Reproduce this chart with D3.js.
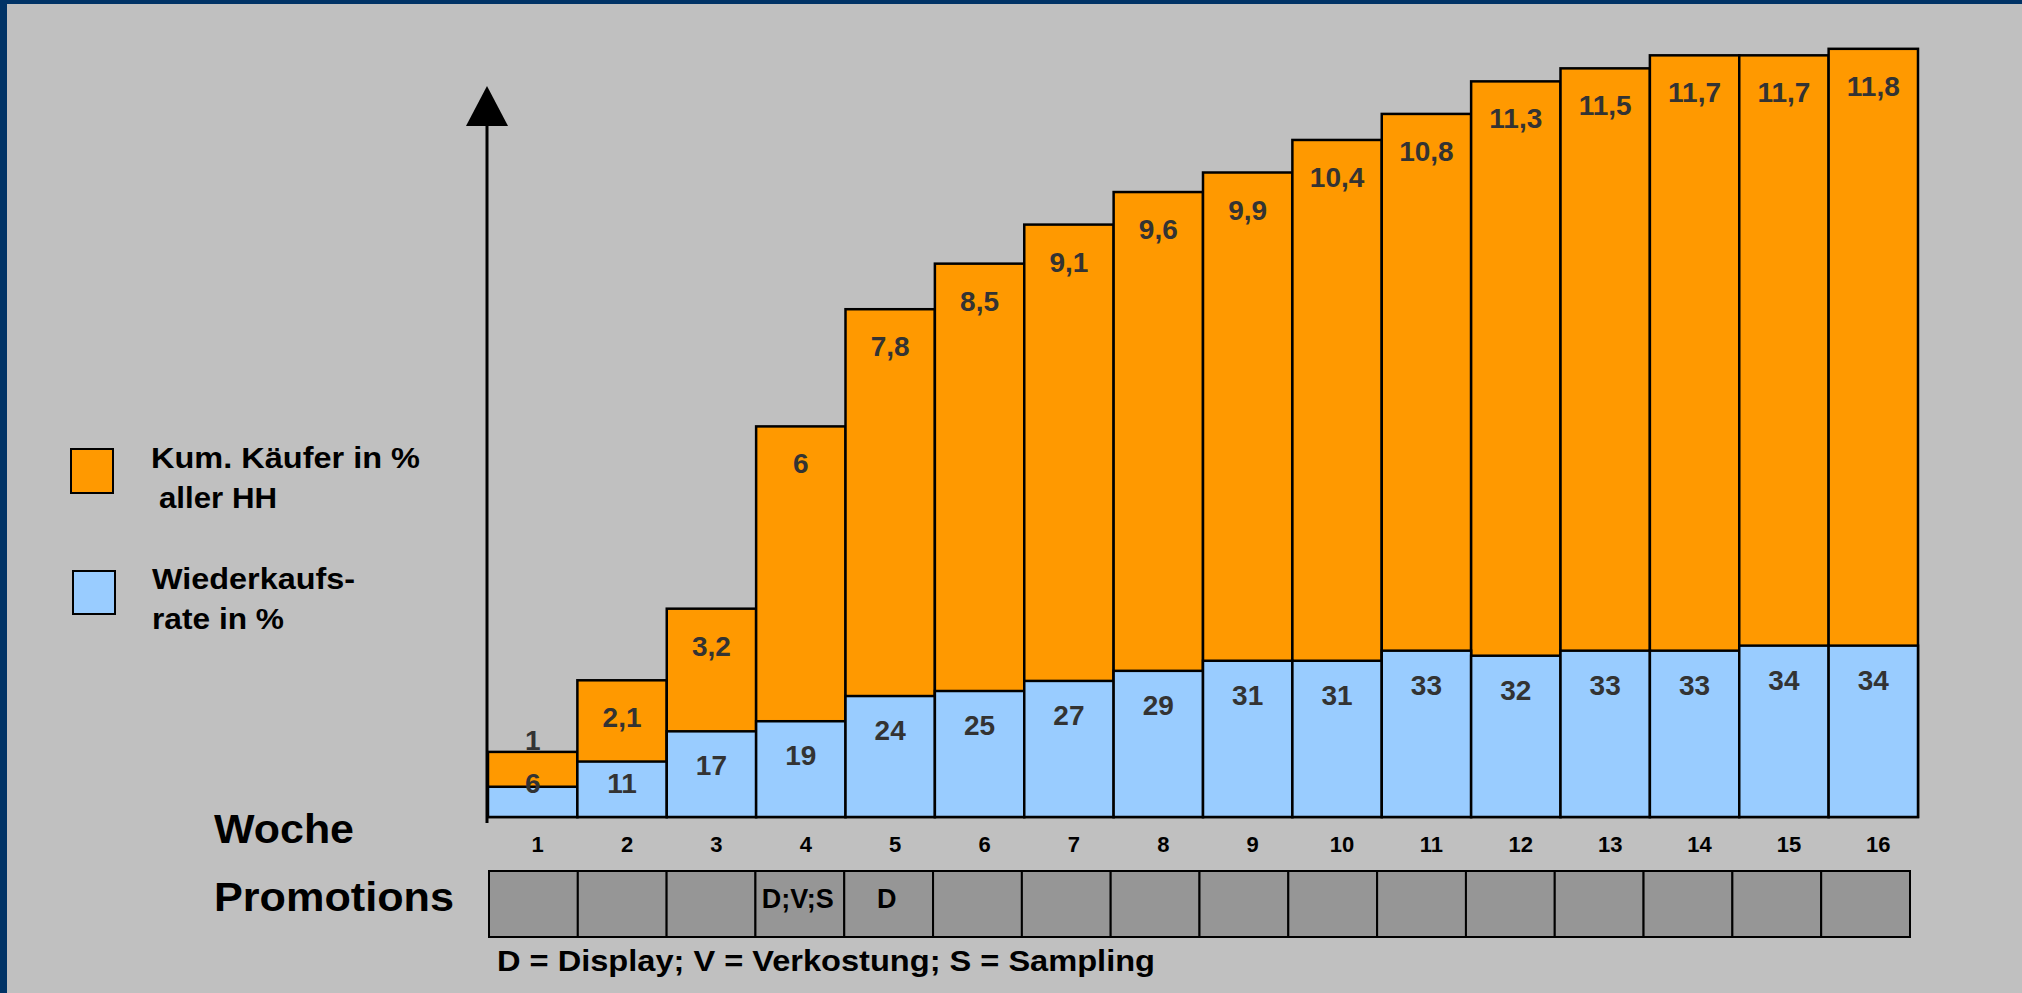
<!DOCTYPE html>
<html>
<head>
<meta charset="utf-8">
<script src="https://cdn.jsdelivr.net/npm/d3@7"></script>
<style>
  html, body { margin: 0; padding: 0; background: #c0c0c0; }
  svg { display: block; }
  text { font-family: "Liberation Sans", Arial, Helvetica, sans-serif; font-weight: bold; }
</style>
</head>
<body>
<svg id="chart" width="2022" height="993"></svg>
<script>
// ---- data ----
const weeks = ["1","2","3","4","5","6","7","8","9","10","11","12","13","14","15","16"];
const kumKaeufer = [1, 2.1, 3.2, 6, 7.8, 8.5, 9.1, 9.6, 9.9, 10.4, 10.8, 11.3, 11.5, 11.7, 11.7, 11.8];
const kumLabels = ["1","2,1","3,2","6","7,8","8,5","9,1","9,6","9,9","10,4","10,8","11,3","11,5","11,7","11,7","11,8"];
const wiederkauf = [6, 11, 17, 19, 24, 25, 27, 29, 31, 31, 33, 32, 33, 33, 34, 34];
const promotions = ["", "", "", "D;V;S", "D", "", "", "", "", "", "", "", "", "", "", ""];
const legendKum = ["Kum. Käufer in %", "aller HH"];
const legendWieder = ["Wiederkaufs-", "rate in %"];
const rowLabels = ["Woche", "Promotions"];
const footnote = "D = Display; V = Verkostung; S = Sampling";

// ---- layout ----
const W = 2022, H = 993;
const svg = d3.select("#chart");
const baseY = 817;
const topY = 817 - 12 * 65.1;

svg.append("rect").attr("x", 0).attr("y", 0).attr("width", W).attr("height", H).attr("fill", "#c0c0c0");
// frame (left and top)
svg.append("rect").attr("x", 0).attr("y", 0).attr("width", 7).attr("height", H).attr("fill", "#003366");
svg.append("rect").attr("x", 0).attr("y", 0).attr("width", W).attr("height", 4).attr("fill", "#003366");

const x = d3.scaleBand().domain(weeks).range([488, 1918]).padding(0);
const xPromo = d3.scaleBand().domain(weeks).range([489, 1910]).padding(0);
const yO = d3.scaleLinear().domain([0, 12]).range([baseY, topY]);
const yB = d3.scaleLinear().domain([0, 155]).range([baseY, topY]);

const data = weeks.map((w, i) => ({ w, k: kumKaeufer[i], kl: kumLabels[i], r: wiederkauf[i], p: promotions[i] }));

// orange bars
svg.append("g").selectAll("rect").data(data).join("rect")
  .attr("x", d => x(d.w)).attr("y", d => yO(d.k))
  .attr("width", x.bandwidth()).attr("height", d => baseY - yO(d.k))
  .attr("fill", "#ff9900").attr("stroke", "#000").attr("stroke-width", 2.5);

// blue bars
svg.append("g").selectAll("rect").data(data).join("rect")
  .attr("x", d => x(d.w)).attr("y", d => yB(d.r))
  .attr("width", x.bandwidth()).attr("height", d => baseY - yB(d.r))
  .attr("fill", "#99ccff").attr("stroke", "#000").attr("stroke-width", 2.5);

// orange labels
svg.append("g").selectAll("text").data(data).join("text")
  .attr("x", d => x(d.w) + x.bandwidth() / 2)
  .attr("y", d => (yB(d.r) - yO(d.k) < 70) ? yO(d.k) - 2 : yO(d.k) + 47)
  .attr("text-anchor", "middle").attr("font-size", 28).attr("fill", "#333333")
  .text(d => d.kl);

// blue labels
svg.append("g").selectAll("text").data(data).join("text")
  .attr("x", d => x(d.w) + x.bandwidth() / 2)
  .attr("y", d => Math.min(yB(d.r) + 44, baseY - 24))
  .attr("text-anchor", "middle").attr("font-size", 28).attr("fill", "#333333")
  .text(d => d.r);

// axis with arrow
const axisX = 487;
svg.append("line").attr("x1", axisX).attr("x2", axisX).attr("y1", 120).attr("y2", 823)
  .attr("stroke", "#000").attr("stroke-width", 3);
svg.append("path").attr("d", `M${axisX},86 L${axisX - 21},126 L${axisX + 21},126 Z`).attr("fill", "#000");

// week tick labels
svg.append("g").selectAll("text").data(weeks).join("text")
  .attr("x", d => x(d) + x.bandwidth() / 2 + 5).attr("y", 852)
  .attr("text-anchor", "middle").attr("font-size", 22).attr("fill", "#000")
  .text(d => d);

// promotions row
svg.append("g").selectAll("rect").data(data).join("rect")
  .attr("x", d => xPromo(d.w)).attr("y", 871)
  .attr("width", xPromo.bandwidth()).attr("height", 66)
  .attr("fill", "#969696").attr("stroke", "#000").attr("stroke-width", 2);
svg.append("g").selectAll("text").data(data.filter(d => d.p)).join("text")
  .attr("x", d => xPromo(d.w) + xPromo.bandwidth() / 2 - 2).attr("y", 908)
  .attr("text-anchor", "middle").attr("font-size", 27).attr("fill", "#000")
  .text(d => d.p);

// row labels
svg.append("text").attr("x", 214).attr("y", 843).attr("font-size", 41).attr("fill", "#000")
  .attr("textLength", 140).attr("lengthAdjust", "spacingAndGlyphs").text(rowLabels[0]);
svg.append("text").attr("x", 214).attr("y", 911).attr("font-size", 41).attr("fill", "#000")
  .attr("textLength", 240).attr("lengthAdjust", "spacingAndGlyphs").text(rowLabels[1]);

// legend
svg.append("rect").attr("x", 71).attr("y", 449).attr("width", 42).attr("height", 44)
  .attr("fill", "#ff9900").attr("stroke", "#000").attr("stroke-width", 2);
svg.append("rect").attr("x", 73).attr("y", 571).attr("width", 42).attr("height", 43)
  .attr("fill", "#99ccff").attr("stroke", "#000").attr("stroke-width", 2);
const legendLines = [
  { t: legendKum[0], x: 151, y: 468, len: 269 },
  { t: legendKum[1], x: 159, y: 508, len: 118 },
  { t: legendWieder[0], x: 152, y: 589, len: 203 },
  { t: legendWieder[1], x: 152, y: 629, len: 132 }
];
svg.append("g").selectAll("text").data(legendLines).join("text")
  .attr("x", d => d.x).attr("y", d => d.y).attr("font-size", 30).attr("fill", "#000")
  .attr("textLength", d => d.len).attr("lengthAdjust", "spacingAndGlyphs")
  .text(d => d.t);

// footnote
svg.append("text").attr("x", 497).attr("y", 971).attr("font-size", 30).attr("fill", "#000")
  .attr("textLength", 658).attr("lengthAdjust", "spacingAndGlyphs").text(footnote);
</script>
</body>
</html>
